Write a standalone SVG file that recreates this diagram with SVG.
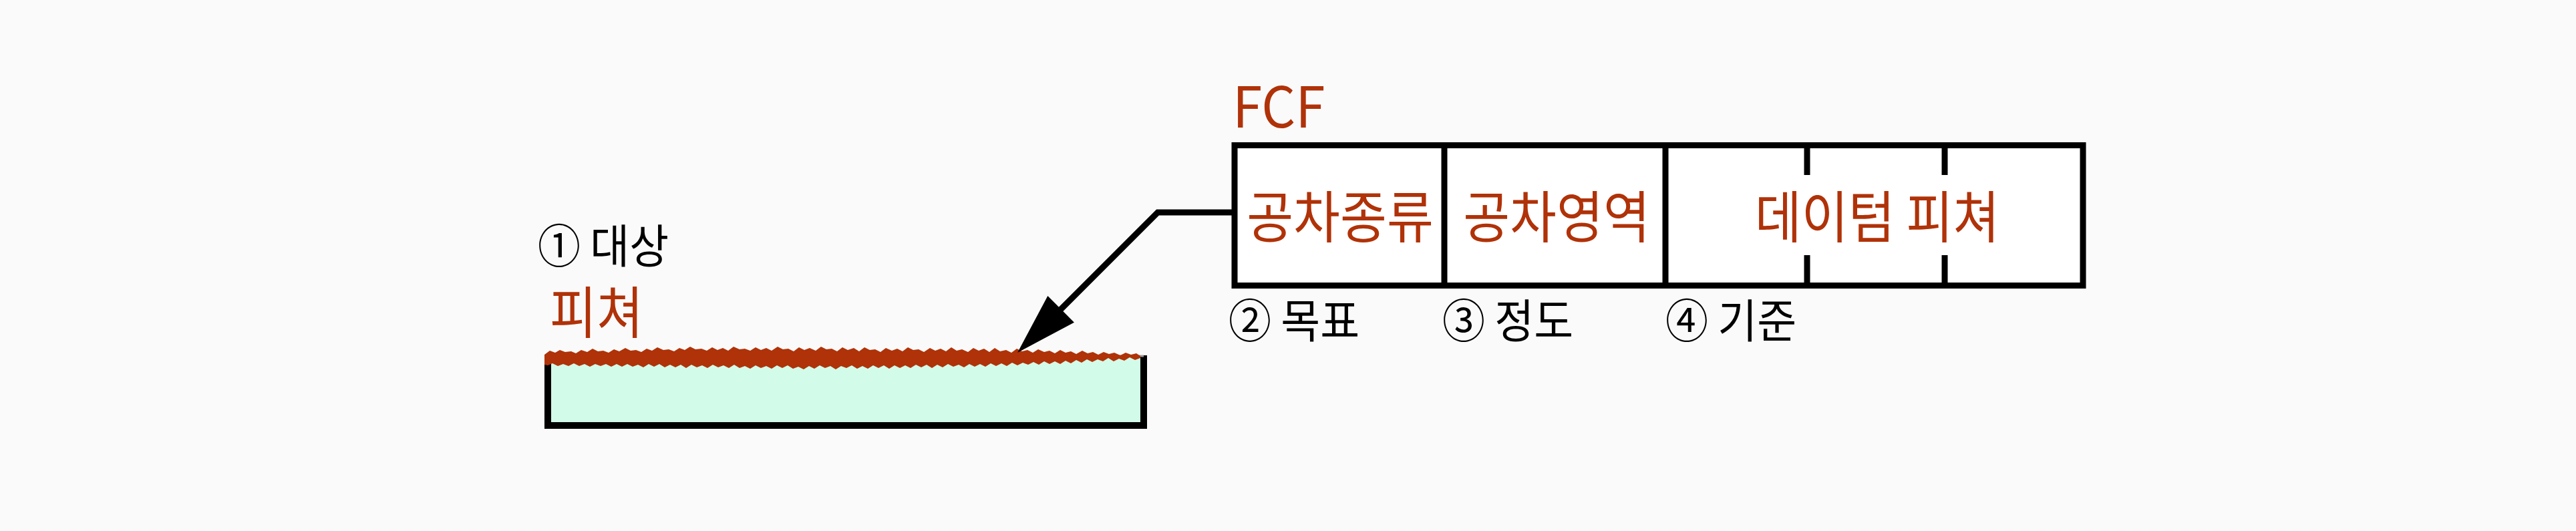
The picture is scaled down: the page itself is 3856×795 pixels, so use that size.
<svg xmlns="http://www.w3.org/2000/svg" width="3856" height="795" viewBox="0 0 3856 795">
<style>
.red{fill:#b03208;font-family:"Noto Sans CJK KR","Noto Sans",sans-serif;}
.blk{fill:#000;font-family:"Noto Sans CJK KR","Noto Sans",sans-serif;font-size:64px;}
.cell{font-size:76px;text-anchor:middle;}
.ln{stroke:#000;stroke-width:9;fill:none;}
</style>
<defs>
<marker id="arr" markerUnits="userSpaceOnUse" markerWidth="92" markerHeight="56" refX="20" refY="28" orient="auto" overflow="visible">
<path d="M0,0 L92,28 L0,56 Z" fill="#000"/>
</marker>
</defs>
<rect x="0" y="0" width="3856" height="795" fill="#fafafa"/>

<g id="target">
<text class="blk" transform="translate(805,394) scale(1,1.08)">① 대상</text>
<text class="red" font-size="76" transform="translate(823,499) scale(1,1.1)">피쳐</text>
<rect x="820" y="533" width="892" height="104" fill="#d2fce9" stroke="none"/>
<path d="M820,532 V637 H1712 V532" fill="none" stroke="#000" stroke-width="10"/>
<line x1="820" y1="533" x2="1712" y2="533" stroke="#9a9a9a" stroke-width="3"/>
<path fill="#b03208" d="M815,531 L823,525 L831,528 L838,524 L846,527 L855,526 L862,529 L870,524 L879,527 L887,522 L895,526 L903,525 L911,528 L919,523 L927,526 L936,521 L944,525 L952,524 L960,527 L968,522 L976,525 L984,520 L993,524 L1001,523 L1009,526 L1017,521 L1025,524 L1033,519 L1041,523 L1050,522 L1058,525 L1066,520 L1074,524 L1082,521 L1090,525 L1098,519 L1107,523 L1115,522 L1123,525 L1131,520 L1139,524 L1147,521 L1155,525 L1164,519 L1172,523 L1180,522 L1188,526 L1196,520 L1204,524 L1212,521 L1221,525 L1229,519 L1237,523 L1245,522 L1253,526 L1261,520 L1269,524 L1278,521 L1286,526 L1294,520 L1302,524 L1310,523 L1318,527 L1326,521 L1335,525 L1343,522 L1351,526 L1359,520 L1367,524 L1375,523 L1383,527 L1392,521 L1400,525 L1408,522 L1416,526 L1424,520 L1432,525 L1440,523 L1449,527 L1457,521 L1465,525 L1473,522 L1481,527 L1489,521 L1497,526 L1506,524 L1514,528 L1522,522 L1530,526 L1538,524 L1546,528 L1554,523 L1563,527 L1571,525 L1579,529 L1587,524 L1595,528 L1603,526 L1611,530 L1620,525 L1628,529 L1636,527 L1644,531 L1652,527 L1660,530 L1668,528 L1677,532 L1685,528 L1693,531 L1701,529 L1707,533 L1707,536 L1699,539 L1691,535 L1683,540 L1675,537 L1667,541 L1659,536 L1651,541 L1643,538 L1635,542 L1627,538 L1619,543 L1611,539 L1603,544 L1595,540 L1587,545 L1579,541 L1571,545 L1563,541 L1555,546 L1547,542 L1539,546 L1531,543 L1523,547 L1515,543 L1507,548 L1499,544 L1491,548 L1483,544 L1475,549 L1467,545 L1459,549 L1451,545 L1443,550 L1435,546 L1427,549 L1419,545 L1411,550 L1403,546 L1395,551 L1387,546 L1379,550 L1371,546 L1363,551 L1355,547 L1347,551 L1339,547 L1331,552 L1323,547 L1315,551 L1307,547 L1299,552 L1291,548 L1283,552 L1275,547 L1267,551 L1259,548 L1251,553 L1243,548 L1235,551 L1227,547 L1219,552 L1211,548 L1203,553 L1195,549 L1187,552 L1179,547 L1171,551 L1163,547 L1155,552 L1147,548 L1139,551 L1131,547 L1123,552 L1115,548 L1107,551 L1099,546 L1091,551 L1083,547 L1075,550 L1067,546 L1059,551 L1051,547 L1043,550 L1035,546 L1027,551 L1019,546 L1011,550 L1003,546 L995,550 L987,545 L979,549 L971,545 L963,550 L955,546 L947,549 L939,545 L931,549 L923,545 L915,549 L907,545 L899,548 L891,545 L883,549 L875,545 L867,548 L859,544 L851,548 L843,545 L835,548 L827,544 L820,547 L815,546 Z"/>
</g>

<g id="fcf">
<text class="red" font-size="80" transform="translate(1845,191) scale(1,1.05)">FCF</text>
<rect x="1848" y="217.5" width="1270" height="210" fill="#fff" stroke="#000" stroke-width="9"/>
<line class="ln" x1="2162" y1="217" x2="2162" y2="428"/>
<line class="ln" x1="2493" y1="217" x2="2493" y2="428"/>
<line class="ln" x1="2705" y1="217" x2="2705" y2="262"/>
<line class="ln" x1="2705" y1="382" x2="2705" y2="428"/>
<line class="ln" x1="2911" y1="217" x2="2911" y2="262"/>
<line class="ln" x1="2911" y1="382" x2="2911" y2="428"/>
<text class="red cell" transform="translate(2006,356) scale(1,1.1)">공차종류</text>
<text class="red cell" transform="translate(2330,356) scale(1,1.1)">공차영역</text>
<text class="red cell" transform="translate(2810,356) scale(1,1.1)">데이텀 피쳐</text>
</g>

<g id="labels">
<text class="blk" transform="translate(1839,506) scale(1,1.08)">② 목표</text>
<text class="blk" transform="translate(2159,506) scale(1,1.08)">③ 정도</text>
<text class="blk" transform="translate(2493,506) scale(1,1.08)">④ 기준</text>
</g>

<g id="connectors">
<polyline class="ln" points="1848,318 1733,318 1574,477" stroke-linejoin="miter" marker-end="url(#arr)"/>
</g>
</svg>
